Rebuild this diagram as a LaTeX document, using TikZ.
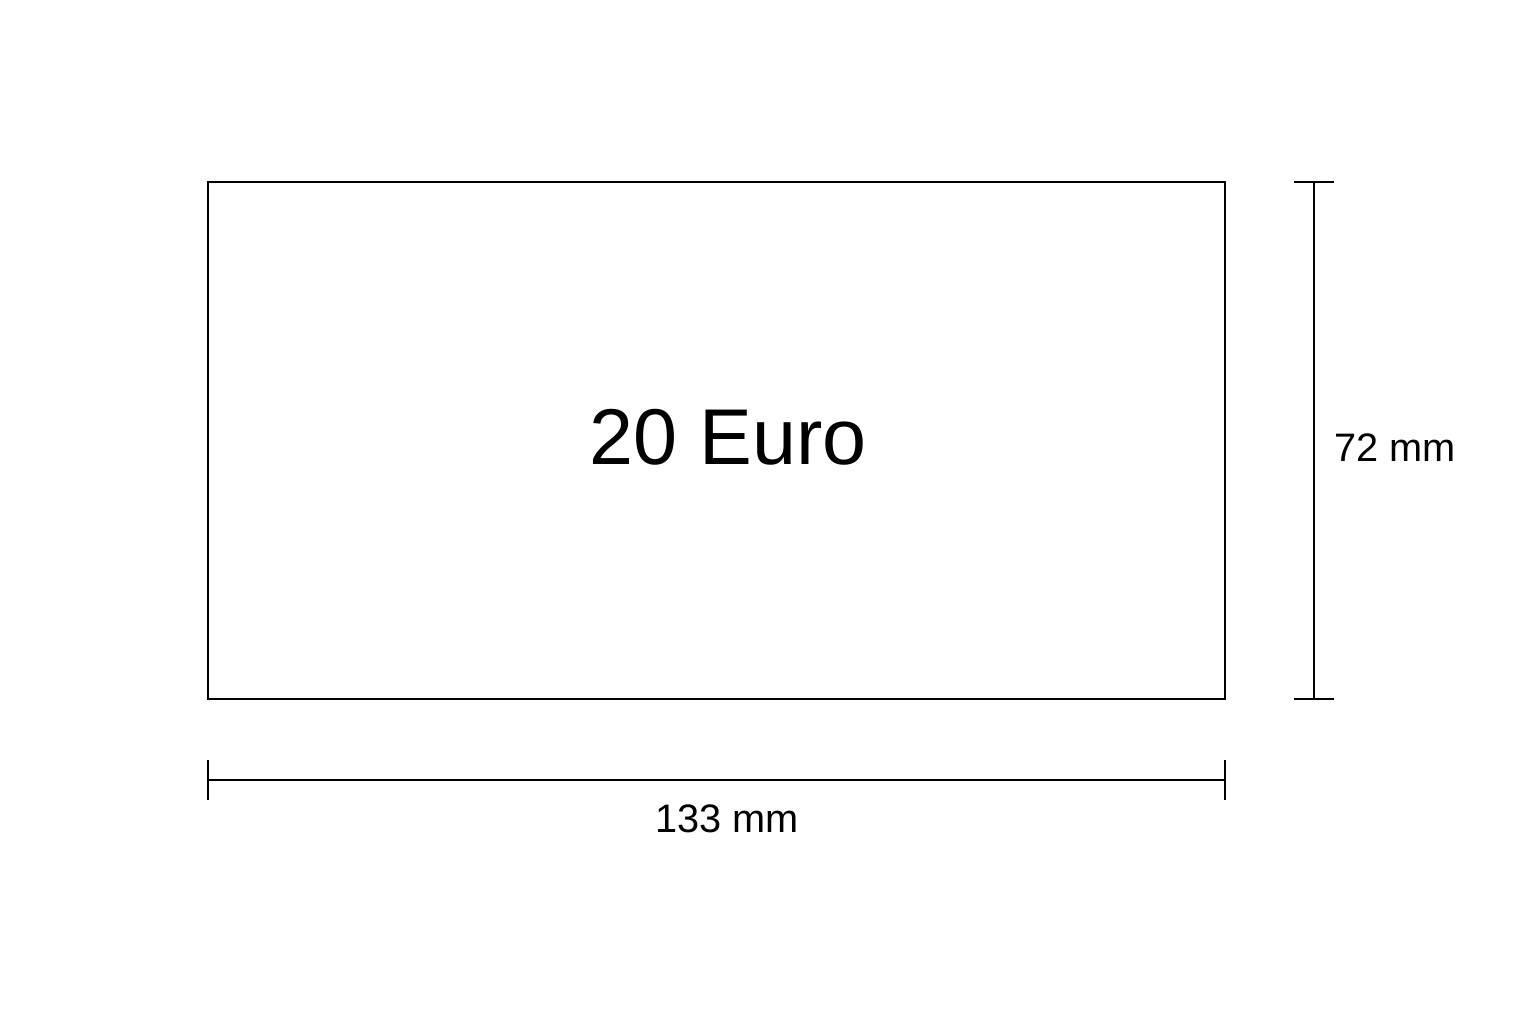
\documentclass[tikz,border=0pt]{standalone}
\usepackage{fontspec}
\setmainfont{Liberation Sans}
\tikzset{
every picture/.style={
line width=0.7pt
}}

\begin{document}
\begin{tikzpicture}[x=0.01cm, y=-0.01cm,
big/.style = {font=\fontsize{22.5}{27}\selectfont},
dim/.style = {font=\fontsize{11.3}{14}\selectfont}]

\useasboundingbox (0,0) rectangle (1536,1024);

% the note
\coordinate (nw) at (208,182);
\coordinate (se) at (1225,699);
\draw (nw) rectangle (se);
\node [big] (value) at (728,437) {20 Euro};

% height
\coordinate (htop) at (1314,182);
\coordinate (hbot) at (1314,699);
\draw (htop) -- (hbot);
\foreach \y in {182,699}
  \draw (1294,\y) -- (1334,\y);
\node [dim] (height) at (1395,448) {72 mm};

% width
\coordinate (wleft) at (208,780);
\coordinate (wright) at (1225,780);
\draw (wleft) -- (wright);
\foreach \x in {208,1225}
  \draw (\x,760) -- (\x,800);
\node [dim] (width) at (727,819) {133 mm};

\end{tikzpicture}
\end{document}
